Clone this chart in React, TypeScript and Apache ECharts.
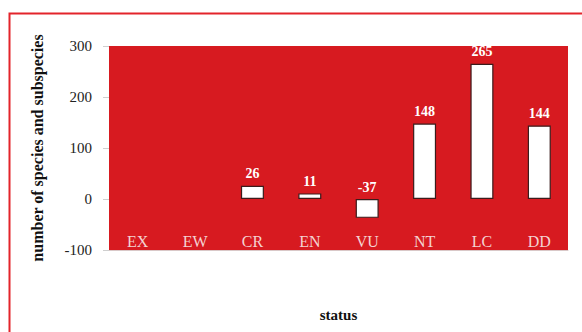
import React, { useEffect, useRef } from "react";
import * as echarts from "echarts";

const categories = ["EX", "EW", "CR", "EN", "VU", "NT", "LC", "DD"];
const values: (number | null)[] = [null, null, 26, 11, -37, 148, 265, 144];
const yTicks = { min: -100, max: 300, interval: 100 };

const SERIF = "'Liberation Serif', 'Times New Roman', serif";

export default function App() {
  const ref = useRef<HTMLDivElement>(null);
  useEffect(() => {
    if (!ref.current) return;
    const chart = echarts.init(ref.current, null, { renderer: "svg" });
    chart.setOption({
      animation: false,
      backgroundColor: "#ffffff",
      graphic: [
        {
          type: "rect",
          left: 7,
          top: 11,
          shape: { width: 620, height: 400 },
          style: { fill: "none", stroke: "#e3242b", lineWidth: 2 },
          silent: true,
        },
      ],
      grid: {
        left: 109,
        right: 14,
        top: 46,
        bottom: 82,
        show: true,
        backgroundColor: "#d71a20",
        borderWidth: 0,
      },
      xAxis: {
        type: "category",
        data: categories,
        name: "status",
        nameLocation: "middle",
        nameGap: 57,
        nameTextStyle: { fontFamily: SERIF, fontWeight: "bold", fontSize: 15, color: "#111" },
        axisLine: { show: true, onZero: false, lineStyle: { color: "#d9c8c8", width: 1 } },
        axisTick: { show: false },
        axisLabel: {
          inside: true,
          margin: 1,
          fontFamily: SERIF,
          fontSize: 16,
          color: "#f4d2d2",
        },
        splitLine: { show: false },
      },
      yAxis: {
        type: "value",
        min: yTicks.min,
        max: yTicks.max,
        interval: yTicks.interval,
        name: "number of species and subspecies",
        nameLocation: "middle",
        nameGap: 64,
        nameTextStyle: { fontFamily: SERIF, fontWeight: "bold", fontSize: 16, color: "#111" },
        axisLine: { show: false },
        axisTick: { show: true, length: 6, lineStyle: { color: "#cfcfcf" } },
        axisLabel: { fontFamily: SERIF, fontSize: 15, color: "#222", margin: 17 },
        splitLine: { show: false },
      },
      series: [
        {
          type: "bar",
          data: values,
          barWidth: 23,
          itemStyle: { color: "#ffffff", borderColor: "#3b1c1c", borderWidth: 1.2 },
          label: {
            show: true,
            position: "top",
            distance: 5,
            color: "#ffffff",
            fontFamily: SERIF,
            fontWeight: "bold",
            fontSize: 14,
          },
        },
      ],
    });
    return () => chart.dispose();
  }, []);
  return (
    <div
      ref={ref}
      style={{ position: "absolute", left: 0, top: 0, width: 582, height: 332 }}
    />
  );
}
